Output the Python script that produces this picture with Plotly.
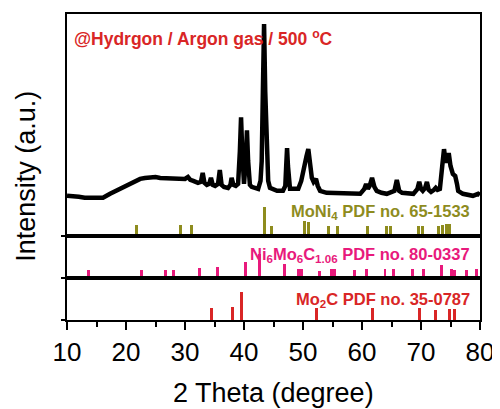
import plotly.graph_objects as go
from plotly.subplots import make_subplots

# XRD pattern (2 theta, intensity a.u.)
two_theta = [10.0, 10.2, 11.0, 12.0, 13.0, 13.9, 15.0, 16.1, 17.3, 18.0, 19.0, 20.0, 20.7, 21.5,
             22.4, 23.2, 24.1, 25.0, 25.8, 26.6, 27.5, 28.3, 29.2, 30.0, 30.5, 30.9, 31.4, 32.2,
             32.7, 33.0, 33.3, 33.7, 34.1, 34.4, 34.7, 35.1, 35.6, 35.9, 36.2, 36.6, 37.3, 37.7,
             37.9, 38.2, 38.6, 39.0, 39.3, 39.5, 39.7, 40.0, 40.3, 40.5, 40.7, 41.0, 41.3, 41.8,
             42.4, 42.8, 43.0, 43.2, 43.4, 43.6, 43.9, 44.1, 44.4, 45.0, 45.6, 46.6, 47.0, 47.15,
             47.3, 47.45, 47.6, 47.8, 48.5, 49.2, 49.7, 50.0, 50.3, 50.6, 50.9, 51.2, 51.5, 51.8,
             52.2, 52.5, 52.9, 54.0, 55.0, 56.8, 58.0, 59.7, 60.4, 60.7, 61.0, 61.3, 61.7, 62.1,
             62.5, 63.3, 64.2, 65.5, 65.9, 66.3, 66.8, 67.7, 68.7, 69.4, 69.7, 70.0, 70.3, 70.7,
             71.0, 71.3, 71.7, 72.2, 72.5, 72.8, 73.2, 73.6, 73.9, 74.15, 74.4, 74.7, 75.0, 75.4,
             75.8, 76.1, 76.3, 77.1, 78.0, 78.8, 79.7, 80.0]
intensity = [40, 40, 39, 39, 38, 38, 38, 38, 42, 44, 47, 50, 52, 54,
             57, 58, 59, 59, 58, 58, 58, 57, 57, 57, 59, 56, 55, 53,
             54, 63, 53, 51, 52, 58, 51, 50, 52, 66, 51, 49, 48, 51,
             58, 51, 50, 52, 85, 119, 85, 52, 75, 106, 75, 51, 49, 48,
             47, 55, 75, 145, 213, 145, 75, 55, 48, 46, 45, 45, 50, 70,
             88, 70, 50, 47, 47, 47, 55, 65, 75, 80, 87, 75, 58, 54,
             57, 50, 45, 43, 43, 42, 42, 42, 47, 52, 47, 50, 58, 49,
             45, 43, 42, 45, 56, 45, 43, 42, 42, 47, 54, 47, 45, 48,
             54, 46, 44, 46, 48, 46, 47, 70, 87, 75, 75, 83, 70, 62,
             60, 52, 45, 42, 41, 40, 42, 41]

# Reference patterns
moni4_pos = [21.8, 29.3, 31.1, 43.4, 44.6, 50.3, 51.0, 54.4, 55.9, 61.0, 64.1, 64.9,
             69.5, 70.3, 72.9, 73.7, 74.4, 74.9]
moni4_int = [11, 11, 11, 29, 10, 15, 14, 10, 10, 10, 10, 10, 10, 10, 10, 11, 12, 12]

ni6mo6c_pos = [13.6, 22.7, 26.7, 28.0, 32.5, 35.5, 40.2, 42.7, 46.8, 49.3, 49.8, 52.8,
               54.9, 55.4, 58.8, 60.8, 63.9, 65.4, 68.6, 70.4, 73.5, 75.2, 75.6, 77.7, 79.4]
ni6mo6c_int = [9, 9, 9, 9, 11, 12, 17, 25, 15, 10, 10, 8, 10, 10, 9, 10, 10, 10, 10, 10,
               14, 10, 9, 9, 10]

mo2c_pos = [34.5, 38.0, 39.5, 52.3, 61.7, 69.7, 72.5, 74.8, 75.6]
mo2c_int = [12, 13, 28, 12, 12, 12, 10, 11, 11]

x_ticks = [10, 20, 30, 40, 50, 60, 70, 80]

FONT = "Liberation Sans, Arial, sans-serif"
RED = "#d92626"
MAGENTA = "#e8197c"
OLIVE = "#8e8c1e"

fig = make_subplots(rows=3, cols=1, shared_xaxes=True, vertical_spacing=0,
                    row_heights=[223, 43, 42])

fig.add_trace(go.Scatter(x=two_theta, y=intensity, mode="lines",
                         line=dict(color="black", width=4.5), showlegend=False), row=1, col=1)
fig.add_trace(go.Bar(x=moni4_pos, y=moni4_int, width=0.5, marker=dict(color=OLIVE, line_width=0),
                     showlegend=False), row=1, col=1)
fig.add_trace(go.Bar(x=ni6mo6c_pos, y=ni6mo6c_int, width=0.5, marker=dict(color=MAGENTA, line_width=0),
                     showlegend=False), row=2, col=1)
fig.add_trace(go.Bar(x=mo2c_pos, y=mo2c_int, width=0.5, marker=dict(color=RED, line_width=0),
                     showlegend=False), row=3, col=1)

for r in (1, 2, 3):
    fig.update_xaxes(range=[10, 80], showline=True, mirror=True, linecolor="black", linewidth=2,
                     showgrid=False, zeroline=False, row=r, col=1)
    fig.update_yaxes(showline=True, mirror=True, linecolor="black", linewidth=2,
                     showgrid=False, zeroline=False, showticklabels=False,
                     tickvals=[0], ticks="outside", ticklen=4, tickwidth=2, tickcolor="black",
                     row=r, col=1)

fig.update_yaxes(range=[0, 223], row=1, col=1)
fig.update_yaxes(range=[0, 43], row=2, col=1)
fig.update_yaxes(range=[0, 42], row=3, col=1)

fig.update_xaxes(ticks="", showticklabels=False, row=1, col=1)
fig.update_xaxes(ticks="", showticklabels=False, row=2, col=1)
fig.update_xaxes(tickvals=x_ticks, ticks="outside", ticklen=8, tickwidth=2, tickcolor="black",
                 showticklabels=True, tickfont=dict(family=FONT, size=26, color="black"),
                 minor=dict(dtick=5, tick0=5, ticks="outside", ticklen=5, tickwidth=2, tickcolor="black"),
                 row=3, col=1)

annotations = [
    dict(text="@Hydrgon / Argon gas / 500 <sup>o</sup>C", x=10.85, y=199, xref="x", yref="y",
         xanchor="left", yanchor="middle", showarrow=False,
         font=dict(family=FONT, size=17.5, color=RED, weight="bold")),
    dict(text="MoNi<sub>4</sub> PDF no. 65-1533", x=78.64, y=24, xref="x", yref="y",
         xanchor="right", yanchor="middle", showarrow=False,
         font=dict(family=FONT, size=16.5, color=OLIVE, weight="bold")),
    dict(text="Ni<sub>6</sub>Mo<sub>6</sub>C<sub>1.06</sub> PDF no. 80-0337", x=78.64, y=23,
         xref="x2", yref="y2", xanchor="right", yanchor="middle", showarrow=False,
         font=dict(family=FONT, size=16.5, color=MAGENTA, weight="bold")),
    dict(text="Mo<sub>2</sub>C PDF no. 35-0787", x=78.64, y=20, xref="x3", yref="y3",
         xanchor="right", yanchor="middle", showarrow=False,
         font=dict(family=FONT, size=16.5, color=RED, weight="bold")),
    dict(text="Intensity (a.u.)", x=-0.0993, y=0.471, xref="paper", yref="paper",
         textangle=-90, xanchor="center", yanchor="middle", showarrow=False,
         font=dict(family=FONT, size=27, color="black")),
    dict(text="2 Theta (degree)", x=0.5, y=-0.237, xref="paper", yref="paper",
         xanchor="center", yanchor="middle", showarrow=False,
         font=dict(family=FONT, size=27, color="black")),
]

# the page body adds an 8px offset; compensate so the plot frame lands where the reference has it
fig.update_layout(width=492, height=401, margin=dict(l=59, r=20, t=4, b=89),
                  plot_bgcolor="white", paper_bgcolor="white", bargap=0,
                  annotations=annotations, font=dict(family=FONT))

fig.write_html("out.html")
